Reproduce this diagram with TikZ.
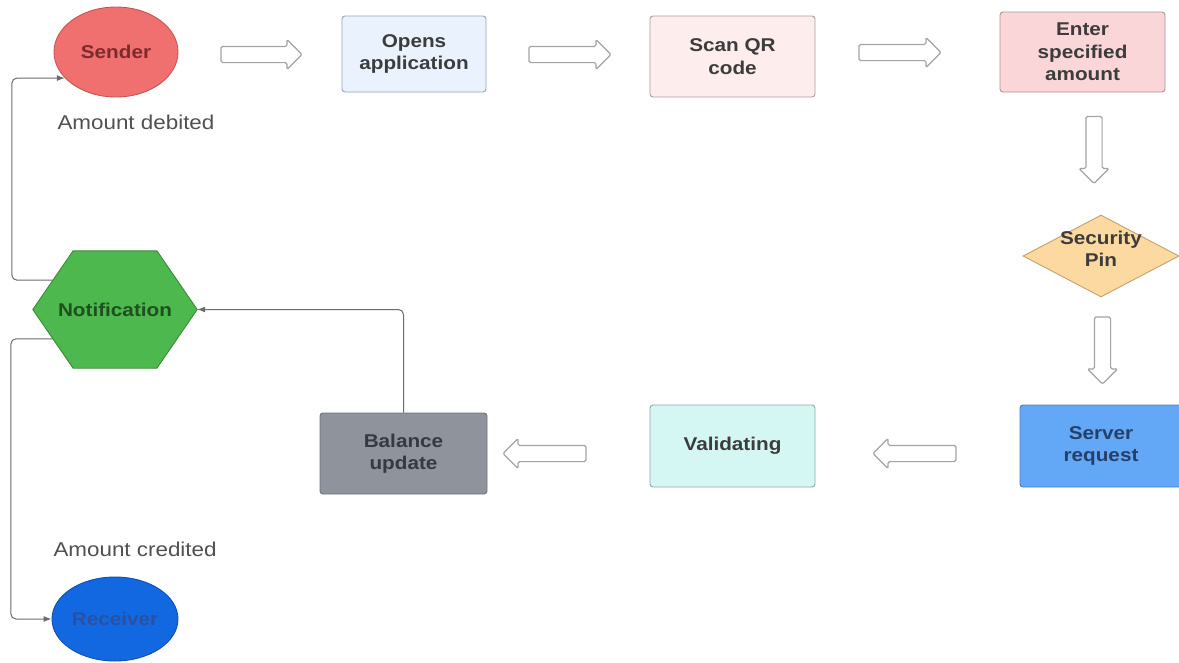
\documentclass[tikz,border=0pt]{standalone}
\usepackage{fontspec}
\setmainfont{Liberation Sans}[FakeStretch=1.12]
\usetikzlibrary{shapes.geometric,shapes.arrows,arrows.meta,calc}
\definecolor{txt}{HTML}{3C3C3C}
\definecolor{conncol}{HTML}{6B6B6B}
\definecolor{hollowcol}{HTML}{A3A3A3}
\tikzset{
  x=1pt,y=1pt,
  nodefont/.style={font=\fontsize{18.5}{22.5}\selectfont\bfseries, text=txt, align=center},
  boxnode/.style={nodefont, draw, line width=0.9pt, rounded corners=3pt, inner sep=0pt},
  ovalnode/.style={nodefont, ellipse, draw, line width=0.9pt, inner sep=0pt},
  hollow/.style={single arrow, draw=hollowcol, fill=white, line width=1.2pt, inner xsep=0pt, inner ysep=7.5pt,
    single arrow head extend=7pt, minimum height=#1, rounded corners=1.5pt},
  conn/.style={draw=conncol, line width=1pt, rounded corners=5pt, -{Latex[length=8pt,width=6pt]}},
  lbl/.style={font=\fontsize{20}{23}\selectfont, text=txt!90!white}
}
\begin{document}
\begin{tikzpicture}
\useasboundingbox (0,0) rectangle (1179,-662);
% top row
\node[ovalnode, fill={rgb,255:red,240;green,112;blue,112}, draw={rgb,255:red,196;green,84;blue,84}, text={rgb,255:red,125;green,42;blue,42},
  minimum width=124pt, minimum height=90pt] (sender) at (116,-52) {Sender};
\node[hollow=81pt] (a1) at (257.5,-54.5) {};
\node[boxnode, fill={rgb,255:red,234;green,242;blue,253}, draw={rgb,255:red,154;green,165;blue,181},
  minimum width=144pt, minimum height=76pt] (opens) at (414,-54) {Opens\\application};
\node[hollow=82pt] (a2) at (566,-54.5) {};
\node[boxnode, fill={rgb,255:red,253;green,238;blue,237}, draw={rgb,255:red,165;green,160;blue,160},
  minimum width=165pt, minimum height=81pt] (scan) at (732.5,-56.5) {Scan QR\\code};
\node[hollow=82pt] (a3) at (896,-52.5) {};
\node[boxnode, fill={rgb,255:red,250;green,214;blue,217}, draw={rgb,255:red,170;green,150;blue,152},
  minimum width=165pt, minimum height=80pt] (enter) at (1082.5,-52) {Enter\\specified\\amount};
% right column
\node[hollow=67pt, rotate=-90] (a4) at (1094,-146) {};
\node[diamond, aspect=1.9, inner sep=0pt, draw={rgb,255:red,196;green,160;blue,110}, line width=0.9pt,
  fill={rgb,255:red,252;green,217;blue,160}, minimum width=156pt, minimum height=82pt] (pin) at (1101,-256) {};
\node[nodefont] (pintext) at ([yshift=7pt]pin.center) {Security\\Pin};
\node[hollow=67pt, rotate=-90] (a5) at (1102.5,-346.5) {};
\node[boxnode, fill={rgb,255:red,98;green,168;blue,246}, draw={rgb,255:red,74;green,128;blue,192}, text={rgb,255:red,38;green,63;blue,102},
  minimum width=162pt, minimum height=82pt] (server) at (1101,-446) {Server\\request};
% bottom row
\node[hollow=83pt, rotate=180] (a6) at (918.5,-453.5) {};
\node[boxnode, fill={rgb,255:red,213;green,247;blue,244}, draw={rgb,255:red,138;green,168;blue,165},
  minimum width=165pt, minimum height=82pt] (valid) at (732.5,-446) {\raisebox{4pt}{Validating}};
\node[hollow=83pt, rotate=180] (a7) at (548.5,-453.5) {};
\node[boxnode, fill={rgb,255:red,142;green,147;blue,156}, draw={rgb,255:red,110;green,114;blue,120}, text={rgb,255:red,53;green,58;blue,66},
  minimum width=167pt, minimum height=81pt] (bal) at (403.5,-453.5) {Balance\\update};
% notification hexagon
\node[nodefont, minimum width=164pt, minimum height=117pt, inner sep=0pt] (notif) at (115,-309.5) {};
\coordinate (hTL) at ($(notif.north west)!0.245!(notif.north east)$);
\coordinate (hTR) at ($(notif.north west)!0.755!(notif.north east)$);
\coordinate (hBL) at ($(notif.south west)!0.245!(notif.south east)$);
\coordinate (hBR) at ($(notif.south west)!0.755!(notif.south east)$);
\filldraw[fill={rgb,255:red,77;green,184;blue,77}, draw={rgb,255:red,58;green,138;blue,58}, line width=0.9pt]
  (notif.west) -- (hTL) -- (hTR) -- (notif.east) -- (hBR) -- (hBL) -- cycle;
\node[nodefont, text={rgb,255:red,30;green,79;blue,30}] (notiftext) at (notif.center) {Notification};
\coordinate (nA) at ($(notif.west)!0.5!(hTL)$);
\coordinate (nB) at ($(notif.west)!0.5!(hBL)$);
% receiver
\node[ovalnode, fill={rgb,255:red,18;green,104;blue,224}, draw={rgb,255:red,16;green,80;blue,176}, text={rgb,255:red,42;green,80;blue,160},
  minimum width=126pt, minimum height=84pt] (recv) at (115,-619) {Receiver};
% labels
\node[lbl, anchor=west] (deb) at (54,-122) {Amount debited};
\node[lbl, anchor=west] (cred) at (50,-549) {Amount credited};
% connectors
\draw[conn] (nA) -- ++(-41,0) |- (sender.207);
\draw[conn] (nB) -- ++(-42,0) |- (recv.west);
\draw[conn] (bal.north) |- (notif.east);
\end{tikzpicture}
\end{document}
